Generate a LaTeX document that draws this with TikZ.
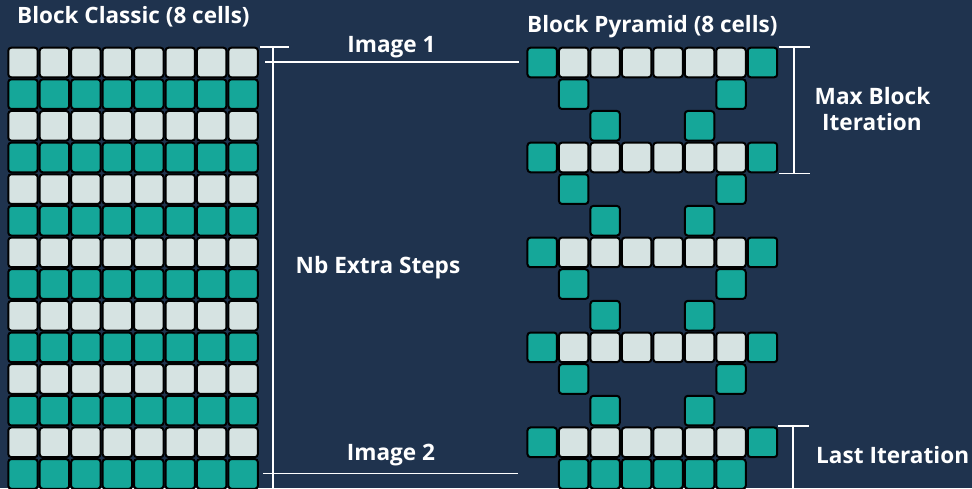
\documentclass[tikz,border=0pt]{standalone}
\usepackage{fontspec}
\setmainfont{Noto Sans}
\IfFontExistsTF{Noto Sans Bold}{\newfontfamily\bfnt{Noto Sans Bold}}{%
  \IfFontExistsTF{NotoSans-Bold.ttf}{\newfontfamily\bfnt{NotoSans-Bold.ttf}}{%
    \IfFontExistsTF{Open Sans Bold}{\newfontfamily\bfnt{Open Sans Bold}}{%
      \newfontfamily\bfnt{Noto Sans}[FakeBold=2]}}}
\definecolor{bgc}{RGB}{31,51,78}
\definecolor{tealc}{RGB}{21,167,153}
\definecolor{lightc}{RGB}{214,227,226}
\begin{document}
\begin{tikzpicture}[x=1pt,y=-1pt,
  cell/.style={draw=black,line width=2pt,rounded corners=3pt,minimum width=29.45pt,minimum height=29.65pt,inner sep=0pt,outer sep=0pt},
  tcell/.style={cell,fill=tealc},
  lcell/.style={cell,fill=lightc},
  title/.style={text=white,font=\bfnt\fontsize{22.5}{26}\selectfont,inner sep=0pt},
  lbl/.style={text=white,font=\bfnt\fontsize{22.6}{27}\selectfont,inner sep=0pt,align=center},
  dim/.style={white,line width=1.6pt}]
\useasboundingbox (0,0) rectangle (972,488);
\fill[bgc] (0,0) rectangle (972,488);
\clip (0,0) rectangle (972,488);
% left grid
\foreach \r in {0,...,13}{
  \foreach \c in {0,...,7}{
    \ifodd\r
      \node[tcell] (L-\r-\c) at ({23.0+31.45*\c},{62.5+31.65*\r}) {};
    \else
      \node[lcell] (L-\r-\c) at ({23.0+31.45*\c},{62.5+31.65*\r}) {};
    \fi
  }
}
% pyramid
\foreach \r in {0,3,6,9,12}{
  \foreach \c in {0,...,7}{
    \ifnum\c=0
      \node[tcell] (P-\r-\c) at ({542.2+31.47*\c},{62.5+31.65*\r}) {};
    \else\ifnum\c=7
      \node[tcell] (P-\r-\c) at ({542.2+31.47*\c},{62.5+31.65*\r}) {};
    \else
      \node[lcell] (P-\r-\c) at ({542.2+31.47*\c},{62.5+31.65*\r}) {};
    \fi\fi
  }
}
\foreach \r in {1,4,7,10}{
  \foreach \c in {1,6}{
    \node[tcell] (P-\r-\c) at ({542.2+31.47*\c},{62.5+31.65*\r}) {};
  }
}
\foreach \r in {2,5,8,11}{
  \foreach \c in {2,5}{
    \node[tcell] (P-\r-\c) at ({542.2+31.47*\c},{62.5+31.65*\r}) {};
  }
}
\foreach \c in {1,...,6}{
  \node[tcell] (P-13-\c) at ({542.2+31.47*\c},{62.5+31.65*13}) {};
}
% titles
\node[title,anchor=base west] (t1) at (17,23.5) {Block Classic (8 cells)};
\node[title,anchor=base west] (t2) at (527,32.5) {Block Pyramid (8 cells)};
% left dimension
\coordinate (a1) at (260,46.7);
\coordinate (a2) at (289,46.7);
\coordinate (v1) at (273,46.7);
\coordinate (v2) at (273,490);
\draw[dim] (a1) -- (a2);
\draw[dim] (v1) -- (v2);
\coordinate (i1a) at (265,62);
\coordinate (i1b) at (519,62);
\draw[dim] (i1a) -- (i1b);
\coordinate (i2a) at (263,473.5);
\coordinate (i2b) at (518,473.5);
\draw[dim] (i2a) -- (i2b);
\node[lbl,anchor=base] (img1) at (391.5,52.7) {Image 1};
\node[lbl,anchor=base] (img2) at (391,460.7) {Image 2};
\node[lbl,anchor=base] (nb) at (378,273.3) {Nb Extra Steps};
% right dimension: max block iteration
\coordinate (m1) at (779,46.7);
\coordinate (m2) at (810,46.7);
\coordinate (m3) at (779,173.3);
\coordinate (m4) at (810,173.3);
\coordinate (mv1) at (794,46.7);
\coordinate (mv2) at (794,173.3);
\draw[dim] (m1) -- (m2);
\draw[dim] (m3) -- (m4);
\draw[dim] (mv1) -- (mv2);
\node[lbl,anchor=base] (mb1) at (872.5,104) {Max Block};
\node[lbl,anchor=base] (mb2) at (872,130.7) {Iteration};
% last iteration
\coordinate (l1) at (778,426);
\coordinate (l2) at (809,426);
\coordinate (lv1) at (793,426);
\coordinate (lv2) at (793,490);
\draw[dim] (l1) -- (l2);
\draw[dim] (lv1) -- (lv2);
\node[lbl,anchor=base west] (li) at (816,463.3) {Last Iteration};
\end{tikzpicture}
\end{document}
